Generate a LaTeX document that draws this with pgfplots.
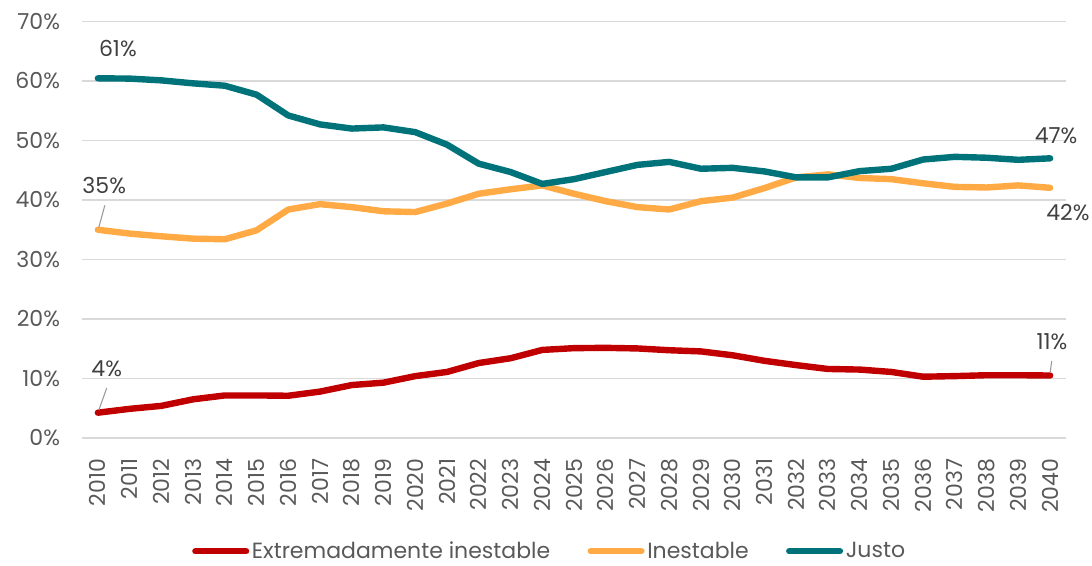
\documentclass[border=0pt]{standalone}
\usepackage{pgfplots}
\pgfplotsset{compat=1.18}
\usepackage{fontspec}
\setmainfont{Poppins}
\definecolor{cred}{HTML}{C00000}
\definecolor{corange}{HTML}{FFAA44}
\definecolor{cteal}{HTML}{00737A}
\definecolor{ctext}{HTML}{595959}
\definecolor{clab}{HTML}{404040}
\definecolor{cgrid}{HTML}{D9D9D9}
\begin{document}
\begin{tikzpicture}
\useasboundingbox (-61.5pt,-96pt) rectangle (757.5pt,328.5pt);
\begin{axis}[
  at={(0,0)}, anchor=south west,
  scale only axis, width=738pt, height=312.4pt,
  xmin=2009.5, xmax=2040.5, ymin=0, ymax=70,
  xtick={2010,2011,...,2040},
  ytick={0,10,...,70},
  axis line style={draw=none},
  major tick length=0pt,
  ymajorgrids, grid style={cgrid, line width=0.9pt},
  font=\fontsize{16.5}{18}\selectfont,
  /pgf/number format/assume math mode=true,
  /pgf/number format/1000 sep={},
  xticklabel style={rotate=90, anchor=east, text=ctext, xshift=-12pt},
  yticklabel style={text=ctext, xshift=-13pt},
  yticklabel={\pgfmathprintnumber{\tick}\%},
  legend columns=3,
  legend style={at={(0.4756,-0.272)}, anchor=center, draw=none, fill=none,
    text=ctext, font=\fontsize{16.5}{18}\selectfont,
    /tikz/every even column/.append style={column sep=26pt}},
  legend image code/.code={\draw[#1, line width=4.8pt, line cap=round] (0pt,0pt) -- (38pt,0pt);},
  every axis plot/.append style={line width=4.8pt, line join=round, line cap=round},
  clip=false,
]
\addplot[cred] coordinates {
(2010,4.25)(2011,4.9)(2012,5.4)(2013,6.5)(2014,7.15)(2015,7.15)(2016,7.1)(2017,7.8)(2018,8.9)(2019,9.3)
(2020,10.4)(2021,11.1)(2022,12.6)(2023,13.4)(2024,14.8)(2025,15.1)(2026,15.15)(2027,15.05)(2028,14.75)(2029,14.55)
(2030,13.9)(2031,12.97)(2032,12.25)(2033,11.6)(2034,11.5)(2035,11.1)(2036,10.3)(2037,10.4)(2038,10.55)(2039,10.55)(2040,10.5)};
\addlegendentry{Extremadamente inestable}
\addplot[corange] coordinates {
(2010,35.0)(2011,34.35)(2012,33.9)(2013,33.5)(2014,33.4)(2015,34.9)(2016,38.4)(2017,39.3)(2018,38.8)(2019,38.1)
(2020,37.97)(2021,39.4)(2022,41.05)(2023,41.8)(2024,42.45)(2025,41.05)(2026,39.8)(2027,38.8)(2028,38.4)(2029,39.8)
(2030,40.4)(2031,42.0)(2032,43.8)(2033,44.3)(2034,43.7)(2035,43.5)(2036,42.8)(2037,42.2)(2038,42.1)(2039,42.45)(2040,42.05)};
\addlegendentry{Inestable}
\addplot[cteal] coordinates {
(2010,60.45)(2011,60.4)(2012,60.1)(2013,59.6)(2014,59.2)(2015,57.7)(2016,54.2)(2017,52.7)(2018,52.0)(2019,52.2)
(2020,51.4)(2021,49.3)(2022,46.1)(2023,44.7)(2024,42.7)(2025,43.5)(2026,44.7)(2027,45.9)(2028,46.4)(2029,45.25)
(2030,45.4)(2031,44.8)(2032,43.8)(2033,43.8)(2034,44.85)(2035,45.25)(2036,46.8)(2037,47.25)(2038,47.1)(2039,46.75)(2040,47.0)};
\addlegendentry{Justo}
\begin{scope}[every node/.style={text=clab, font=\fontsize{16.5}{18}\selectfont, inner sep=0pt}]
\node at (axis cs:2010.63,65.4) {61\%};
\node at (axis cs:2010.2,42.4) {35\%};
\node at (axis cs:2010.28,11.7) {4\%};
\node at (axis cs:2040.19,50.8) {47\%};
\node at (axis cs:2040.56,37.9) {42\%};
\node at (axis cs:2040.06,16.2) {11\%};
\end{scope}
\draw[gray!80, line width=0.8pt] (axis cs:2010.22,39.1) -- (axis cs:2010.03,35.4);
\draw[gray!80, line width=0.8pt] (axis cs:2010.28,8.4) -- (axis cs:2010.03,4.7);
\draw[gray!80, line width=0.8pt] (axis cs:2040.05,12.9) -- (axis cs:2040.0,11.0);
\end{axis}
\end{tikzpicture}
\end{document}
